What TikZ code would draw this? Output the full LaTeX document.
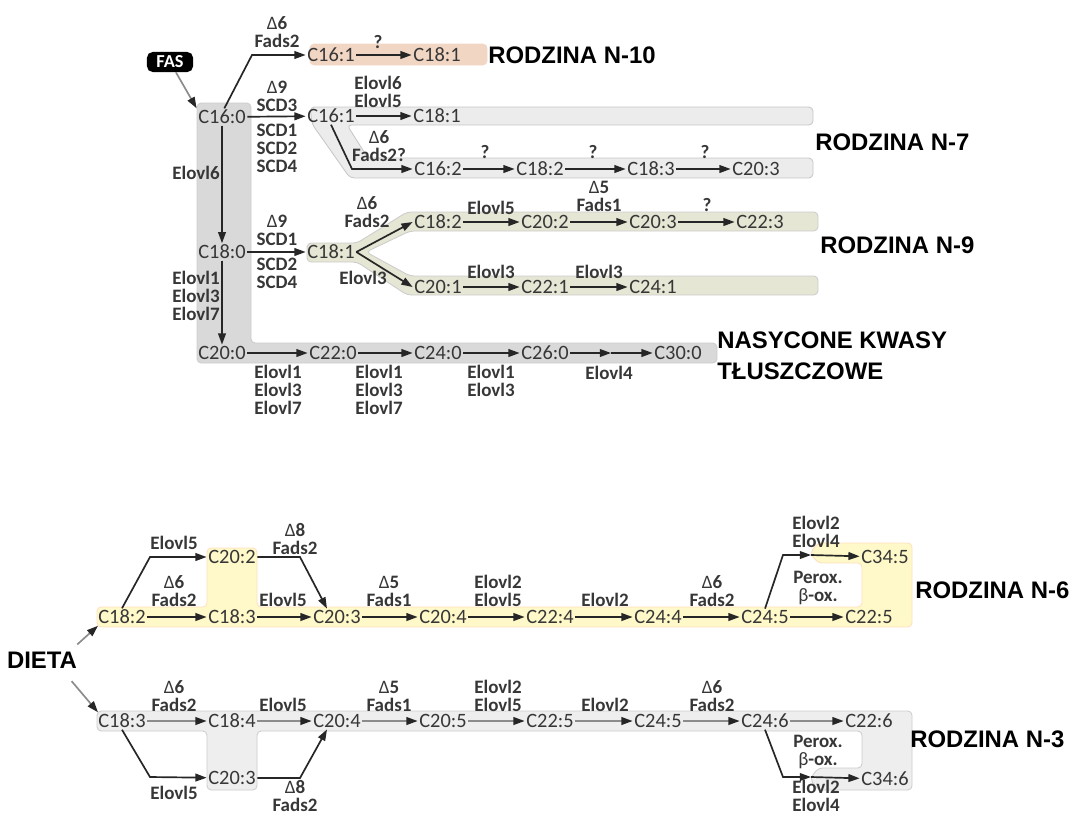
\documentclass[tikz,border=0pt]{standalone}
\usepackage{fontspec}
\setmainfont{Carlito}
\newfontfamily\titlefont{Liberation Sans}
\usetikzlibrary{arrows.meta}

\definecolor{satgray}{RGB}{217,217,217}
\definecolor{npeach}{RGB}{242,214,196}
\definecolor{nseven}{RGB}{236,236,236}
\definecolor{nnine}{RGB}{230,230,212}
\definecolor{nsix}{RGB}{255,248,200}
\definecolor{nthree}{RGB}{238,238,238}
\definecolor{txt}{RGB}{55,55,55}

\tikzset{
  fa/.style={font=\fontsize{14.5}{16}\selectfont, text=txt, inner sep=1pt},
  enz/.style={font=\bfseries\fontsize{13.5}{12.8}\selectfont, text=txt, align=center, inner sep=0pt},
  title/.style={font=\titlefont\bfseries\fontsize{17}{22}\selectfont, anchor=west, inner sep=0pt, align=left},
  arr/.style={-{Triangle[length=8pt,width=5.5pt]}, line width=1.2pt, black!85},
  arrg/.style={-{Triangle[length=8pt,width=5.5pt,color=black!85]}, line width=1.2pt, black!45},
  band/.style={rounded corners=3pt, line width=0.6pt},
}

\begin{document}
\begin{tikzpicture}[x=0.025cm, y=-0.025cm]
    \useasboundingbox (0,0) rectangle (1069,816);

    % Bands
    \filldraw[band, fill=satgray, draw=black!20] (197,103) -- (251,103) -- (251,343) -- (717,343) -- (717,363) -- (197,363) -- cycle;
    \filldraw[band, fill=npeach, draw=npeach] (310,44) rectangle (487,65);
    \filldraw[band, fill=nseven, draw=black!22] (310,107) -- (813,107) -- (813,125) -- (347,125) -- (368,158) -- (813,158) -- (813,178) -- (350,178) -- (312,124) -- cycle;
    \filldraw[band, fill=nnine, draw=black!20] (307,243) -- (357,243) -- (407,212) -- (818,212) -- (818,231) -- (410,231) -- (366,252) -- (410,276) -- (818,276) -- (818,295) -- (407,295) -- (357,262) -- (307,262) -- cycle;
    \filldraw[band, fill=nsix, draw=orange!25] (97,607) -- (207,607) -- (207,548) -- (257,548) -- (257,607) -- (862,607) -- (862,563) -- (818,563) -- (810,553) -- (818,543) -- (912,543) -- (912,627) -- (97,627) -- cycle;
    \filldraw[band, fill=nthree, draw=black!20] (97,711) -- (912,711) -- (912,790) -- (818,790) -- (810,779) -- (818,768) -- (862,768) -- (862,731) -- (257,731) -- (257,790) -- (207,790) -- (207,731) -- (97,731) -- cycle;

    % Main column
    \node[fill=black, text=white, rounded corners=4pt, minimum width=1.15cm, minimum height=0.5cm, inner sep=2pt,
          font=\bfseries\fontsize{13}{14}\selectfont] (fas) at (170,62) {FAS};
    \node[fa] (c160) at (222,117) {C16:0};
    \node[fa] (c180) at (222,252) {C18:0};
    \node[fa] (c200) at (222,353) {C20:0};
    \draw[arrg] (fas) -- (c160.north west);
    \draw[arr] (c160) -- (c180);
    \draw[arr] (c180) -- (c200);
    \node[enz, anchor=east] (e6) at (220,173) {Elovl6};
    \node[enz, anchor=east] (e137) at (220,296) {Elovl1\\Elovl3\\Elovl7};

    % Rodzina n-10
    \node[fa] (t1) at (331,55) {C16:1};
    \node[fa] (t2) at (437,55) {C18:1};
    \draw[arr] (c160.75) -- (252,55) -- (t1);
    \draw[arr] (t1) -- (t2);
    \node[enz] (t-l1) at (277,32) {\textmd{Δ}6\\Fads2};
    \node[enz] (t-l2) at (378,42) {?};
    \node[title] (n10) at (488,55) {RODZINA N-10};

    % Rodzina n-7
    \foreach \n/\x/\y/\txt in {u1/331/116/C16:1, u2/437/116/C18:1, u3/438/169/C16:2,
                             u4/540/169/C18:2, u5/651/169/C18:3, u6/756/169/C20:3}
        \node[fa] (\n) at (\x,\y) {\txt};
    \draw[arr] (c160) -- (u1);
    \draw[arr] (u1) -- (u2);
    \draw[arr] (u1.south) -- (352,169) -- (u3);
    \foreach \a/\b in {u3/u4, u4/u5, u5/u6}
        \draw[arr] (\a) -- (\b);
    \node[enz] (u-l1) at (277,96) {\textmd{Δ}9\\SCD3};
    \node[enz] (u-l2) at (277,148) {SCD1\\SCD2\\SCD4};
    \node[enz] (u-l3) at (378,92) {Elovl6\\Elovl5};
    \node[enz] (u-l4) at (379,146) {\textmd{Δ}6\\Fads2?};
    \foreach \x [count=\i] in {485, 593, 705}
        \node[enz] (u-q\i) at (\x,152) {?};
    \node[title] (n7) at (815,142) {RODZINA N-7};

    % Rodzina n-9
    \foreach \n/\x/\y/\txt in {v1/331/252/C18:1, v2/438/222/C18:2, v3/545/222/C20:2, v4/653/222/C20:3,
                             v5/760/222/C22:3, v6/438/287/C20:1, v7/545/287/C22:1, v8/653/287/C24:1}
        \node[fa] (\n) at (\x,\y) {\txt};
    \draw[arr] (c180) -- (v1);
    \draw[arr] (v1.east) -- (v2.west);
    \draw[arr] (v1.east) -- (v6.west);
    \foreach \a/\b in {v2/v3, v3/v4, v4/v5, v6/v7, v7/v8}
        \draw[arr] (\a) -- (\b);
    \node[enz] (v-l1) at (277,230) {\textmd{Δ}9\\SCD1};
    \node[enz] (v-l2) at (277,273) {SCD2\\SCD4};
    \node[enz] (v-l3) at (367,212) {\textmd{Δ}6\\Fads2};
    \node[enz] (v-l4) at (363,278) {Elovl3};
    \node[enz] (v-l5) at (491,208) {Elovl5};
    \node[enz] (v-l6) at (599,196) {\textmd{Δ}5\\Fads1};
    \node[enz] (v-l7) at (707,205) {?};
    \node[enz] (v-l8) at (491,272) {Elovl3};
    \node[enz] (v-l9) at (599,272) {Elovl3};
    \node[title] (n9) at (820,245) {RODZINA N-9};

    % Nasycone kwasy
    \foreach \n/\x/\txt in {s220/333/C22:0, s240/438/C24:0, s260/545/C26:0, s300/678/C30:0}
        \node[fa] (\n) at (\x,353) {\txt};
    \coordinate (k0) at (611,353);
    \draw[arr] (c200) -- (s220);
    \draw[arr] (s220) -- (s240);
    \draw[arr] (s240) -- (s260);
    \draw[arr] (s260) -- (k0);
    \draw[arr] (k0) -- (s300);
    \node[enz] (s-l1) at (278,390) {Elovl1\\Elovl3\\Elovl7};
    \node[enz] (s-l2) at (379,390) {Elovl1\\Elovl3\\Elovl7};
    \node[enz] (s-l3) at (491,381) {Elovl1\\Elovl3};
    \node[enz] (s-l4) at (609,373) {Elovl4};
    \node[title] (sat) at (717,356) {NASYCONE KWASY\\TŁUSZCZOWE};

    % Dieta
    \node[title, anchor=center] (dieta) at (42,660) {DIETA};

    % Rodzina n-6
    \foreach \n/\x/\txt in {p1/122/C18:2, p2/232/C18:3, p3/337/C20:3, p4/443/C20:4,
                          p5/550/C22:4, p6/658/C24:4, p7/765/C24:5, p8/869/C22:5}
        \node[fa] (\n) at (\x,617) {\txt};
    \node[fa] (p20) at (232,557) {C20:2};
    \node[fa] (p34) at (885,557) {C34:5};
    \coordinate (k6) at (811,555);
    \foreach \a/\b in {p1/p2, p2/p3, p3/p4, p4/p5, p5/p6, p6/p7, p7/p8}
        \draw[arr] (\a) -- (\b);
    \draw[arr] (p1.north) -- (150,557) -- (p20);
    \draw[arr] (p20) -- (300,557) -- (p3.140);
    \draw[arr] (p7.north) -- (783,555) -- (k6);
    \draw[arr] (k6) -- (p34);
    \draw[arrg] ([yshift=5pt]dieta.north east) -- (p1.200);
    \foreach \x/\y/\txt [count=\i] in {174/591/{\textmd{Δ}6\\Fads2}, 174/543/{Elovl5}, 295/539/{\textmd{Δ}8\\Fads2},
            283/600/{Elovl5}, 389/591/{\textmd{Δ}5\\Fads1}, 498/591/{Elovl2\\Elovl5}, 605/600/{Elovl2},
            712/591/{\textmd{Δ}6\\Fads2}, 818/588/{Perox.\\\textmd{β}-ox.}, 816/532/{Elovl2\\Elovl4}}
        \node[enz] (p-l\i) at (\x,\y) {\txt};
    \node[title] (n6) at (915,590) {RODZINA N-6};

    % Rodzina n-3
    \foreach \n/\x/\txt in {q1/122/C18:3, q2/232/C18:4, q3/337/C20:4, q4/443/C20:5,
                          q5/550/C22:5, q6/658/C24:5, q7/765/C24:6, q8/869/C22:6}
        \node[fa] (\n) at (\x,721) {\txt};
    \node[fa] (q20) at (232,778) {C20:3};
    \node[fa] (q34) at (885,779) {C34:6};
    \coordinate (k3) at (811,777);
    \foreach \a/\b in {q1/q2, q2/q3, q3/q4, q4/q5, q5/q6, q6/q7, q7/q8}
        \draw[arrg] (\a) -- (\b);
    \draw[arr] (q1.south) -- (150,777) -- (q20);
    \draw[arr] (q20) -- (300,778) -- (q3.220);
    \draw[arr] (q7.south) -- (783,777) -- (k3);
    \draw[arr] (k3) -- (q34);
    \draw[arrg] ([shift={(-4pt,-9pt)}]dieta.south east) -- (q1.160);
    \foreach \x/\y/\txt [count=\i] in {174/696/{\textmd{Δ}6\\Fads2}, 283/705/{Elovl5}, 389/696/{\textmd{Δ}5\\Fads1},
            498/696/{Elovl2\\Elovl5}, 605/705/{Elovl2}, 712/696/{\textmd{Δ}6\\Fads2}, 818/752/{Perox.\\\textmd{β}-ox.},
            174/793/{Elovl5}, 295/796/{\textmd{Δ}8\\Fads2}, 816/796/{Elovl2\\Elovl4}}
        \node[enz] (q-l\i) at (\x,\y) {\txt};
    \node[title] (n3) at (910,739) {RODZINA N-3};
\end{tikzpicture}
\end{document}
